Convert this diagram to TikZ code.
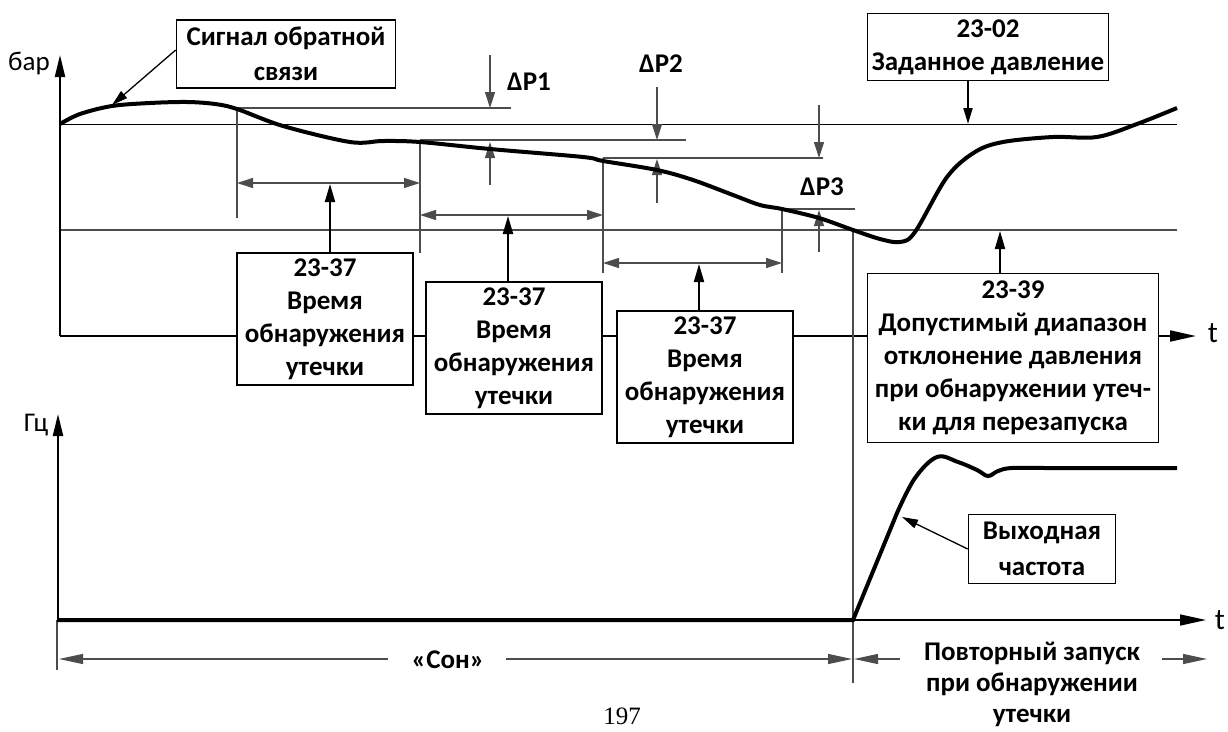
\documentclass[tikz,border=0pt]{standalone}
\usepackage{fontspec}
\setmainfont{Carlito}
\newfontfamily\pagefont{Liberation Serif}
\usetikzlibrary{arrows.meta}

\begin{document}
\begin{tikzpicture}[x=1pt, y=-1pt,
  box/.style={draw, line width=1.6pt, fill=white, align=center, inner sep=0pt, font=\bfseries\fontsize{27}{33}\selectfont},
  lbl/.style={align=center, inner sep=0pt, font=\bfseries\fontsize{27}{33}\selectfont},
  unit/.style={inner sep=0pt, font=\fontsize{27}{30}\selectfont},
  axis/.style={line width=2.4pt, -{Triangle[length=22pt, width=10pt]}},
  thinln/.style={line width=1.2pt, black!70},
  dimarr/.style={thinln, {Triangle[length=16pt, width=10pt]}-{Triangle[length=16pt, width=10pt]}},
  darr/.style={thinln, -{Triangle[length=16pt, width=10pt]}},
  uparr/.style={line width=2pt, -{Triangle[length=18pt, width=10pt]}},
  ptr/.style={line width=1.3pt, -{Triangle[length=16pt, width=9pt]}},
  curve/.style={line width=4pt, line join=round}
]
\useasboundingbox (0,0) rectangle (1228,731);

% upper graph
\draw[line width=1pt] (60,124) -- (1177,124);
\draw[thinln] (60,230) -- (1177,230);
\draw[axis] (60,336) -- (60,55);
\draw[line width=2pt, -{Triangle[length=26pt, width=11pt]}] (60,336) -- (1196,336);
\node[unit] (bar) at (29,63) {бар};
\node[unit, font=\fontsize{30}{30}\selectfont] (t1) at (1213,333) {t};

% time markers
\draw[thinln] (237,108) -- (237,218);
\draw[thinln] (420,142) -- (420,253);
\draw[thinln] (603,158) -- (603,273);
\draw[thinln] (782,209) -- (782,273);
\draw[thinln] (853,230) -- (853,683);
\draw[dimarr] (237,183) -- (420,183);
\draw[dimarr] (420,215) -- (603,215);
\draw[dimarr] (603,263) -- (782,263);

% pressure deviations
\draw[thinln] (237,108) -- (511,108);
\draw[thinln] (420,140) -- (686,140);
\draw[thinln] (603,158) -- (823,158);
\draw[thinln] (782,209) -- (855,209);
\draw[darr] (490,55) -- (490,108);
\draw[darr] (490,185) -- (490,142);
\draw[darr] (657,87) -- (657,140);
\draw[darr] (657,203) -- (657,159);
\draw[darr] (819,105) -- (819,158);
\draw[darr] (819,252) -- (819,210);
\node[lbl] (dp1) at (529,82) {ΔP1};
\node[lbl] (dp2) at (661,64) {ΔP2};
\node[lbl] (dp3) at (822,187) {ΔP3};

\draw[curve] plot[smooth, tension=0.55] coordinates {(60,124) (80,114) (112,106) (150,103) (187,102) (215,104) (237,109) (283,126) (350,142) (383,141) (420,142) (490,149) (583,157) (603,161) (657,170) (693,180) (733,195) (760,205) (782,209) (819,218) (853,230) (880,239) (900,242) (915,232) (947,177) (975,152) (1003,142) (1053,137) (1097,137) (1137,124) (1177,108)};

% boxes
\node[box, minimum width=219pt, minimum height=68pt, font=\bfseries\fontsize{27}{35}\selectfont] (sig) at (286,54) {Сигнал обратной\\связи};
\node[box, minimum width=241pt, minimum height=67pt] (setp) at (988,47) {23-02\\Заданное давление};
\node[box, minimum width=176pt, minimum height=132pt] (det1) at (325,319) {23-37\\Время\\обнаружения\\утечки};
\node[box, minimum width=176pt, minimum height=132pt] (det2) at (514,348) {23-37\\Время\\обнаружения\\утечки};
\node[box, minimum width=176pt, minimum height=132pt] (det3) at (705,377) {23-37\\Время\\обнаружения\\утечки};
\node[box, minimum width=291pt, minimum height=169pt] (band) at (1013,358) {23-39\\Допустимый диапазон\\отклонение давления\\при обнаружении утеч-\\ки для перезапуска};

\coordinate (fb) at (112,105);
\coordinate (sp) at (968,124);
\coordinate (w1) at (330,184);
\coordinate (w2) at (508,216);
\coordinate (w3) at (699,264);
\coordinate (lim) at (1000,231);
\draw[ptr] ([yshift=4pt]sig.west) -- (fb);
\draw[ptr, line width=2pt] (setp.south -| sp) -- (sp);
\draw[uparr] (det1.north -| w1) -- (w1);
\draw[uparr] (det2.north -| w2) -- (w2);
\draw[uparr] (det3.north -| w3) -- (w3);
\draw[uparr] (band.north -| lim) -- (lim);

% lower graph
\draw[axis] (58,620) -- (58,414);
\node[unit] (hz) at (36,425) {Гц};
\draw[line width=1.5pt, -{Triangle[length=26pt, width=11pt]}] (853,620) -- (1206,620);
\node[unit, font=\fontsize{30}{30}\selectfont] (t2) at (1220,620) {t};
\draw[thinln] (57,620) -- (57,670);
\draw[curve, line join=miter] (57,620) -- (853,620) -- (897,513) plot[smooth, tension=0.6] coordinates {(897,513) (915,478) (937,457) (958,462) (977,470) (988,476) (998,471) (1012,468) (1050,468) (1177,468)};
\node[box, minimum width=147pt, minimum height=69pt, font=\bfseries\fontsize{27}{36}\selectfont] (fout) at (1042,549) {Выходная\\частота};
\coordinate (fc) at (902,517);
\draw[ptr] (fout.west) -- (fc);

% sleep / restart
\node[lbl] (sleep) at (448,660) {«Сон»};
\node[lbl, font=\bfseries\fontsize{27}{31}\selectfont] (restart) at (1032,684) {Повторный запуск\\при обнаружении\\утечки};
\draw[thinln, -{Triangle[length=24pt, width=10pt]}] (388,659) -- (59,659);
\draw[thinln, -{Triangle[length=24pt, width=10pt]}] (506,659) -- (852,659);
\draw[thinln, -{Triangle[length=24pt, width=10pt]}] (900,659) -- (854,659);
\draw[thinln, -{Triangle[length=24pt, width=10pt]}] (1162,659) -- (1207,659);

\node[inner sep=0pt, anchor=base, font=\pagefont\fontsize{25}{25}\selectfont] (page) at (622,724) {197};
\end{tikzpicture}
\end{document}
